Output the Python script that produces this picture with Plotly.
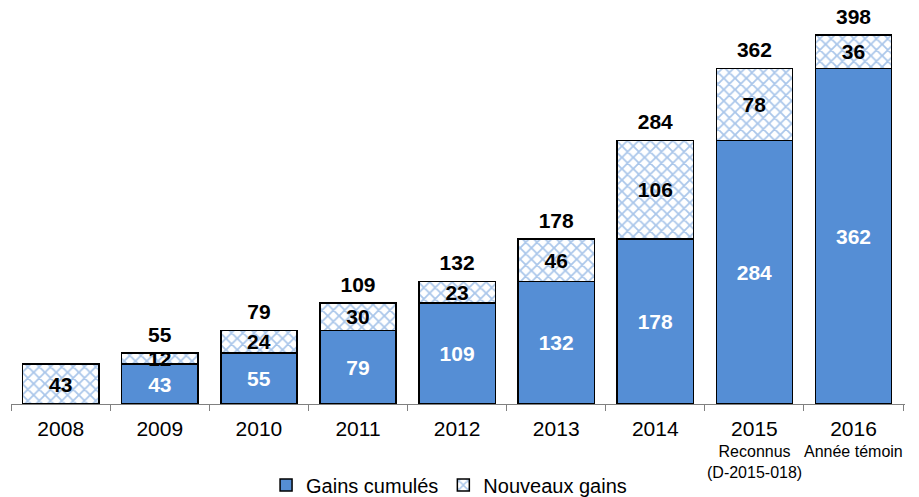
import plotly.graph_objects as go

years = ['2008', '2009', '2010', '2011', '2012', '2013', '2014', '2015', '2016']
sub_labels = {'2015': 'Reconnus<br>(D-2015-018)', '2016': 'Année témoin'}
gains_cumules = [0, 43, 55, 79, 109, 132, 178, 284, 362]
nouveaux_gains = [43, 12, 24, 30, 23, 46, 106, 78, 36]
totals = [c + n for c, n in zip(gains_cumules, nouveaux_gains)]

blue = '#558ED5'
font = 'Liberation Sans, Arial, sans-serif'
label_font = dict(size=21, family=font, weight='bold')

fig = go.Figure()
fig.add_trace(go.Bar(
    x=years, y=gains_cumules, name='Gains cumulés',
    marker=dict(color=blue, line=dict(color='black', width=1.5)),
    text=[str(v) if v else '' for v in gains_cumules],
    textposition='inside', insidetextanchor='middle', constraintext='none',
    textfont=dict(color='white', **label_font),
))
fig.add_trace(go.Bar(
    x=years, y=nouveaux_gains, name='Nouveaux gains',
    marker=dict(color='white', line=dict(color='black', width=1.5),
                pattern=dict(shape='x', fgcolor=blue, bgcolor='white', size=8, solidity=0.4)),
    text=[str(v) for v in nouveaux_gains],
    textposition='inside', insidetextanchor='middle', constraintext='none',
    textfont=dict(color='black', **label_font),
))
# totals above each stack (2008 has no total label in the original);
# invisible marker just pushes the text up a little
fig.add_trace(go.Scatter(
    x=years, y=totals, mode='markers+text',
    marker=dict(size=8, opacity=0),
    text=[str(t) if c else '' for t, c in zip(totals, gains_cumules)],
    textposition='top center', showlegend=False, hoverinfo='skip', cliponaxis=False,
    textfont=dict(color='black', **label_font),
))

# sub-captions under the 2015/2016 ticks (category axis -> annotation x is the index)
for yr, txt in sub_labels.items():
    fig.add_annotation(x=years.index(yr), y=0, yref='paper', yshift=-37, text=txt,
                       showarrow=False, yanchor='top',
                       font=dict(size=16, family=font, color='black'))

# page body has an 8px default margin, so margins are shifted to compensate
fig.update_layout(
    width=919, height=497, barmode='stack', bargap=0.23,
    plot_bgcolor='white', paper_bgcolor='white',
    margin=dict(l=3, r=22, t=25, b=101),
    font=dict(family=font, size=20, color='black'),
    legend=dict(orientation='h', x=0.49, xanchor='center', yref='container',
                y=0.04, yanchor='middle', font=dict(size=20), traceorder='normal'),
    showlegend=True,
)
fig.update_xaxes(type='category', showline=True, linecolor='#808080', linewidth=1,
                 automargin=False, ticks='outside', tickson='boundaries',
                 tickcolor='#808080', ticklen=6, ticklabelstandoff=6,
                 tickfont=dict(size=21))
fig.update_yaxes(range=[0, 400], visible=False)

fig.write_html('out.html')
